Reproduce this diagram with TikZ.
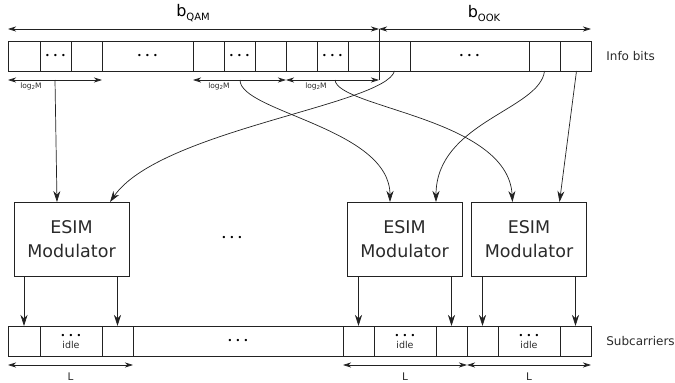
\documentclass[tikz,border=0pt]{standalone}
\usepackage{fontspec}
\setmainfont{DejaVu Sans}
\usetikzlibrary{arrows.meta,calc}
\definecolor{lc}{HTML}{222222}
\definecolor{tc}{HTML}{2A2A2A}
\newcommand\bdots{{\fontsize{8}{8}\selectfont •\hspace{3.2pt}•\hspace{3.2pt}•}}
\begin{document}
\begin{tikzpicture}[x=1pt,y=-1pt,line width=0.7pt,
  cell/.style={draw=lc, minimum height=30pt, inner sep=0pt, outer sep=0pt, anchor=north west},
  modbox/.style={draw=lc, minimum width=115pt, minimum height=74pt, inner sep=0pt, outer sep=0pt,
    align=center, font=\fontsize{17.5}{24}\selectfont, text=tc},
  feed/.style={draw=lc, -{Stealth[length=11pt,width=7pt,inset=3.5pt]}},
  span/.style={draw=lc, {Stealth[length=8pt,width=5pt,inset=2.5pt]}-{Stealth[length=8pt,width=5pt,inset=2.5pt]}},
  smalllab/.style={text=tc, inner sep=0pt, font=\fontsize{7.5}{8}\selectfont},
  lab/.style={text=tc, inner sep=0pt, font=\fontsize{12}{14}\selectfont},
  idletxt/.style={text=tc, inner sep=0pt, font=\fontsize{9.5}{10}\selectfont}]
\useasboundingbox (0,0) rectangle (675,383);

% ---- information bit vector ----
\node[cell, minimum width=32pt] (t1) at (8,41) {};
\node[cell, minimum width=31pt] (t2) at (40,41) {\bdots};
\node[cell, minimum width=31pt] (t3) at (71,41) {};
\node[cell, minimum width=91pt] (t4) at (102,41) {\bdots};
\node[cell, minimum width=31pt] (t5) at (193,41) {};
\node[cell, minimum width=31pt] (t6) at (224,41) {\bdots};
\node[cell, minimum width=31pt] (t7) at (255,41) {};
\node[cell, minimum width=31pt] (t8) at (286,41) {};
\node[cell, minimum width=31pt] (t9) at (317,41) {\bdots};
\node[cell, minimum width=31pt] (t10) at (348,41) {};
\node[cell, minimum width=31pt] (t11) at (379,41) {};
\node[cell, minimum width=119pt] (t12) at (410,41) {\bdots};
\node[cell, minimum width=31pt] (t13) at (529,41) {};
\node[cell, minimum width=31pt] (t14) at (560,41) {};
\node[lab, anchor=west] (info) at (606,56) {Info bits};

% ---- split markers above the bit vector ----
\draw[span] ([yshift=12pt]t1.north west) -- ([yshift=12pt]t10.north east);
\draw[span] ([yshift=12pt]t11.north west) -- ([yshift=12pt]t14.north east);
\draw[draw=lc] ([yshift=12pt]t10.north east) -- ([yshift=-9pt]t10.south east);
\node (bq) at (193,13) {\fontsize{16}{18}\selectfont b\raisebox{-4pt}{\fontsize{10}{11}\selectfont QAM}};
\node (bo) at (484,13) {\fontsize{16}{18}\selectfont b\raisebox{-4pt}{\fontsize{10}{11}\selectfont OOK}};

% ---- groups of log2 M bits ----
\draw[span] ([yshift=-9pt]t1.south west) -- ([yshift=-9pt]t3.south east);
\draw[span] ([yshift=-9pt]t5.south west) -- ([yshift=-9pt]t7.south east);
\draw[span] ([yshift=-9pt]t8.south west) -- ([yshift=-9pt]t10.south east);
\node[smalllab] (g1) at (31,86.5) {log\raisebox{-1pt}{\fontsize{5.5}{5.5}\selectfont 2}M};
\node[smalllab] (g2) at (219,86.5) {log\raisebox{-1pt}{\fontsize{5.5}{5.5}\selectfont 2}M};
\node[smalllab] (g3) at (316,86.5) {log\raisebox{-1pt}{\fontsize{5.5}{5.5}\selectfont 2}M};
\coordinate (c1) at (55,80);
\coordinate (c2) at (240,80);
\coordinate (c3) at (335,80);

% ---- modulators ----
\node[modbox] (m1) at (71.5,239) {ESIM\\Modulator};
\node[modbox] (m2) at (404.5,239) {ESIM\\Modulator};
\node[modbox] (m3) at (529,239) {ESIM\\Modulator};
\node (mdots) at (232,238) {\bdots};

% ---- bit-to-modulator routing ----
\draw[feed] (c1) -- ([xshift=43pt]m1.north west);
\draw[feed] (t11.south) .. controls (385,105) and (160,130) .. ([xshift=96pt]m1.north west);
\draw[feed] (c2) .. controls (240,112) and (390,128) .. ([xshift=43pt]m2.north west);
\draw[feed] (t13.south) .. controls (540,110) and (436,122) .. ([xshift=89pt]m2.north west);
\draw[feed] (c3) .. controls (338,108) and (508,118) .. ([xshift=41pt]m3.north west);
\draw[feed] ([xshift=1pt]t14.south) -- ([xshift=88pt]m3.north west);

% ---- subcarrier vector ----
\node[cell, minimum width=32pt] (s1) at (8,326) {};
\node[cell, minimum width=62pt] (s2) at (40,326) {};
\node[cell, minimum width=31pt] (s3) at (102,326) {};
\node[cell, minimum width=210pt] (s4) at (133,326) {\bdots};
\node[cell, minimum width=31pt] (s5) at (343,326) {};
\node[cell, minimum width=62pt] (s6) at (374,326) {};
\node[cell, minimum width=31pt] (s7) at (436,326) {};
\node[cell, minimum width=31pt] (s8) at (467,326) {};
\node[cell, minimum width=62pt] (s9) at (498,326) {};
\node[cell, minimum width=31pt] (s10) at (560,326) {};
\foreach \s in {s2,s6,s9}{
  \node[inner sep=0pt] at ([yshift=-10pt]\s.north) {\bdots};
  \node[idletxt] at ([yshift=-19pt]\s.north) {idle};
}
\node[lab, anchor=west] (sub) at (606,341) {Subcarriers};

% ---- modulator outputs ----
\draw[feed] (m1.south -| s1.north) -- (s1.north);
\draw[feed] (m1.south -| s3.north) -- (s3.north);
\draw[feed] (m2.south -| s5.north) -- (s5.north);
\draw[feed] (m2.south -| s7.north) -- (s7.north);
\draw[feed] (m3.south -| s8.north) -- (s8.north);
\draw[feed] (m3.south -| s10.north) -- (s10.north);

% ---- subcarrier block lengths ----
\draw[span] ([yshift=-9pt]s1.south west) -- ([yshift=-9pt]s4.south west);
\draw[span] ([yshift=-9pt]s5.south west) -- ([yshift=-9pt]s7.south east);
\draw[span] ([yshift=-9pt]s8.south west) -- ([yshift=-9pt]s10.south east);
\node[text=tc, font=\fontsize{10.5}{11}\selectfont] (l1) at (70.5,376.5) {L};
\node[text=tc, font=\fontsize{10.5}{11}\selectfont] (l2) at (405,376.5) {L};
\node[text=tc, font=\fontsize{10.5}{11}\selectfont] (l3) at (529,376.5) {L};
\end{tikzpicture}
\end{document}
